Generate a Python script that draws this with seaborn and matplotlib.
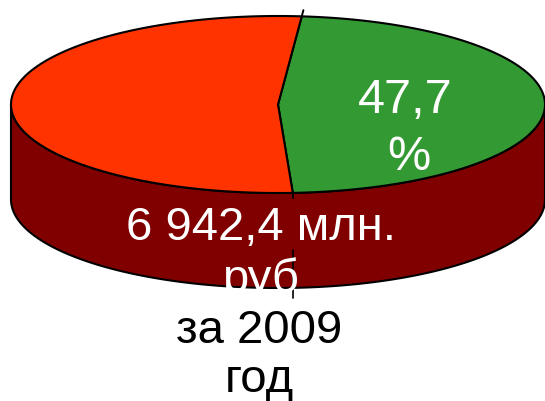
import numpy as np
import matplotlib.pyplot as plt
import seaborn as sns
from matplotlib.patches import Polygon

# data
shares = [47.7, 52.3]
top_colors = ["#339933", "#FF3300"]
side_color = "#800000"
pct_lines = ["47,7", "%"]
amount_lines = ["6 942,4 млн.", "руб"]
year_lines = ["за 2009", "год"]

sns.set_theme(style="white")
plt.rcParams["font.family"] = ["Liberation Sans", "DejaVu Sans"]

fig = plt.figure(figsize=(5.45, 4.01), dpi=100)
ax = fig.add_axes([0, 0, 1, 1])
ax.set_xlim(0, 545)
ax.set_ylim(401, 0)
ax.axis("off")

# 3d pie geometry (pixels)
cx, cy, a, b, depth = 278, 104.5, 267, 88.5, 95
start = 84.9


def pt(t_deg, dy=0.0):
    t = np.radians(t_deg)
    return (cx + a * np.cos(t), cy - b * np.sin(t) + dy)


# front side of the cylinder
ts = np.linspace(180, 360, 300)
side_pts = [pt(t) for t in ts] + [pt(t, depth) for t in ts[::-1]]
side = Polygon(side_pts, closed=True, fc=side_color, ec="black", lw=1.5,
               joinstyle="round", zorder=1)
ax.add_patch(side)

# top slices, clockwise from start
edges = start - np.cumsum([0] + shares) / sum(shares) * 360
for i, col in enumerate(top_colors):
    arc = np.linspace(edges[i], edges[i + 1], 300)
    poly = [(cx, cy)] + [pt(t) for t in arc]
    ax.add_patch(Polygon(poly, closed=True, fc=col, ec="black", lw=1.5,
                         joinstyle="round", zorder=2))

# separator tick above the top and down the side
tx, ty = pt(edges[0])
ax.plot([tx, cx + (tx - cx) * 1.07], [ty, cy + (ty - cy) * 1.07],
        color="black", lw=1.4, zorder=3)
bx, by = pt(edges[1])
ax.plot([bx, bx], [by, by + 5], color="black", lw=1.4, zorder=3)
ax.plot([bx, bx], [by + 57, by + depth + 10], color="black", lw=1.2, zorder=3)

# labels
ax.text(405, 113, pct_lines[0], color="white", fontsize=35,
        ha="center", va="baseline", zorder=4)
ax.text(409, 170, pct_lines[1], color="white", fontsize=35,
        ha="center", va="baseline", zorder=4)

for line, yb in zip(amount_lines, [240.5, 292]):
    t = ax.text(261, yb, line, color="white", fontsize=34,
                ha="center", va="baseline", zorder=4)
    t.set_clip_on(True)
    t.set_clip_path(side)

for line, yb in zip(year_lines, [343, 392]):
    ax.text(259, yb, line, color="black", fontsize=34,
            ha="center", va="baseline", zorder=4)

fig.savefig("out.png", dpi=100)
